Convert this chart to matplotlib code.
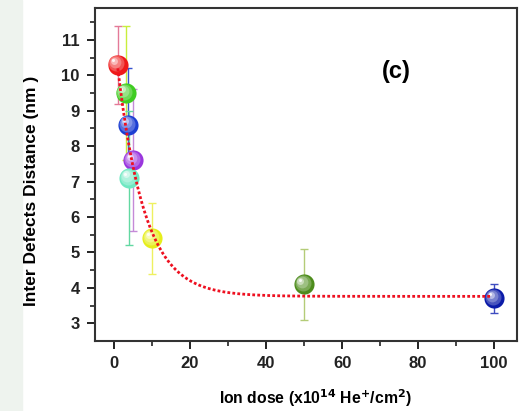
import numpy as np
import matplotlib
matplotlib.use("Agg")
import matplotlib.pyplot as plt
import matplotlib.transforms as mtransforms
from matplotlib.colors import to_rgb
from matplotlib.patches import Rectangle

# measured points (ion dose x1e14 He+/cm2, inter-defect distance nm)
dose = [1.0, 3.1, 3.8, 5.1, 4.0, 10.1, 50, 100]
distance = [10.3, 9.5, 8.6, 7.6, 7.1, 5.4, 4.1, 3.7]
err = [1.1, 1.9, 1.6, 2.0, 1.9, 1.0, 1.0, 0.4]
ball_colors = ["#ee1a1a", "#3fcc22", "#1d3fd2", "#9a36dd", "#6fe8c2",
               "#e6ee1c", "#4d8c1c", "#0b1ba8"]
bar_colors = ["#e47a98", "#c8ee3c", "#3652d0", "#c58ad8", "#62d8a2",
              "#eef060", "#b4cc78", "#3e4cc0"]

# exponential decay fit y = y0 + A*exp(-x/t)
fit_y0, fit_A, fit_t = 3.76, 7.41, 7.1
fit_x = np.linspace(1.0, 99.0, 300)
fit_y = fit_y0 + fit_A * np.exp(-fit_x / fit_t)

plt.rcParams['font.family'] = ['Liberation Sans', 'DejaVu Sans']
plt.rcParams['font.weight'] = 'bold'

fig = plt.figure(figsize=(5.25, 4.11), dpi=100)
fig.patches.append(Rectangle((0, 0), 22 / 525, 1, transform=fig.transFigure,
                             color="#eef3ee", zorder=0))
ax = fig.add_axes([95 / 525, 1 - 341 / 411, 422 / 525, 333 / 411])

for x, y, e, bc in zip(dose, distance, err, bar_colors):
    ax.errorbar(x, y, yerr=e, fmt="none", ecolor=bc, elinewidth=1.0,
                capsize=3, capthick=1.0, zorder=2)

# shaded balls: base colour then lighter layers toward the upper left
layers = [(14.5, 0.0, 0, 0), (11.5, 0.25, -1.0, 1.0), (8.5, 0.45, -1.8, 1.8),
          (5.0, 0.7, -2.6, 2.6), (2.2, 0.95, -3.2, 3.2)]
for x, y, c in zip(dose, distance, ball_colors):
    base = np.array(to_rgb(c))
    for ms, mix, dx, dy in layers:
        col = base * (1 - mix) + mix
        tr = mtransforms.offset_copy(ax.transData, fig=fig, x=dx, y=dy,
                                     units='points')
        ax.plot([x], [y], 'o', ms=ms, color=col, mec='none',
                transform=tr, zorder=3)

ax.plot(fit_x, fit_y, ls=(0, (1, 0.8)), color="#ee1020", lw=2.0, zorder=4)

ax.set_xlim(-5, 106)
ax.set_ylim(2.5, 11.9)
ax.set_xticks([0, 20, 40, 60, 80, 100])
ax.set_xticks(np.arange(10, 101, 20), minor=True)
ax.set_yticks(np.arange(3, 12, 1))
ax.set_yticks(np.arange(3.5, 11.6, 1), minor=True)
ax.tick_params(which='major', length=6, width=1.4, labelsize=12, pad=5,
               colors='#222222', top=False, right=False)
ax.tick_params(which='minor', length=3.5, width=1.2, color='#222222',
               top=False, right=False)
for s in ax.spines.values():
    s.set_linewidth(1.5)
    s.set_color('#333333')

fig.text(315 / 525, 1 - 398 / 411,
         "Ion dose (x10$^{\\mathbf{14}}$ He$^{\\mathbf{+}}$/cm$^{\\mathbf{2}}$)",
         fontsize=11.3, fontweight='bold', ha='center', va='center')
fig.text(32 / 525, 1 - 191 / 411, "Inter Defects Distance (nm )",
         fontsize=12.5, fontweight='bold', rotation=90,
         ha='center', va='center')
ax.text(0.713, 0.81, "(c)", transform=ax.transAxes, fontsize=17,
        fontweight='bold', ha='center', va='center')

fig.savefig("out.png", dpi=100)
